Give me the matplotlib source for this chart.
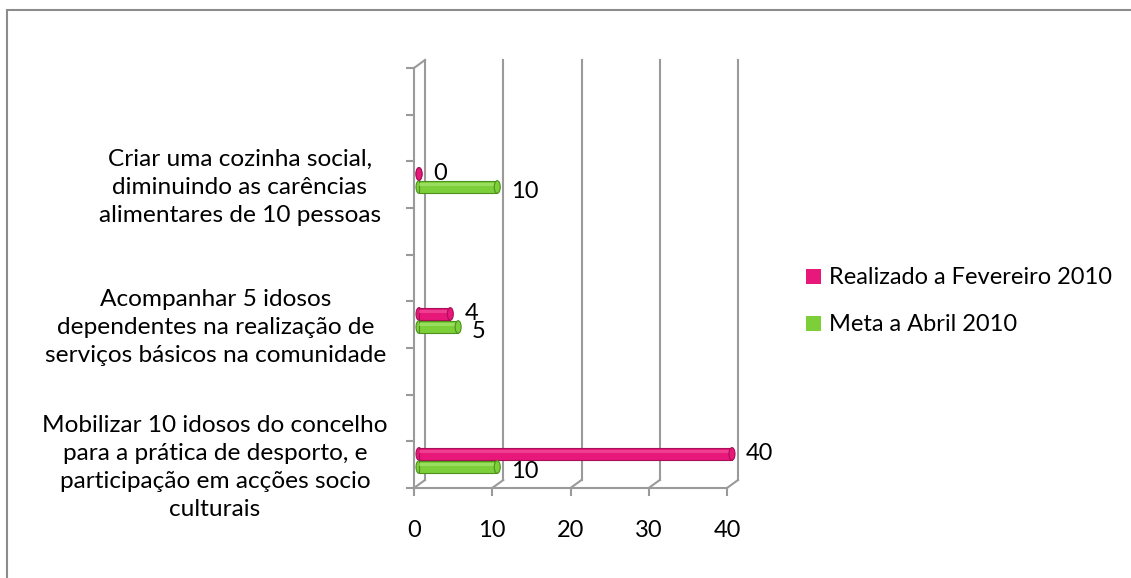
import matplotlib.pyplot as plt
import matplotlib.transforms as mtransforms
from matplotlib.patches import Ellipse, Patch, Rectangle

plt.rcParams["font.family"] = ["Lato", "DejaVu Sans"]

# data (bottom category first)
categories = [
    "Mobilizar 10 idosos do concelho\npara a prática de desporto, e\nparticipação em acções socio\nculturais",
    "Acompanhar 5 idosos\ndependentes na realização de\nserviços básicos na comunidade",
    "Criar uma cozinha social,\ndiminuindo as carências\nalimentares de 10 pessoas",
]
realizado = [40, 4, 0]
meta = [10, 5, 10]
series_names = ["Realizado a Fevereiro 2010", "Meta a Abril 2010"]
x_ticks = [0, 10, 20, 30, 40]

PINK, PINK_DARK, PINK_LIGHT = "#E8177A", "#A80F56", "#F45FA3"
GREEN, GREEN_DARK, GREEN_LIGHT = "#7DCF3A", "#4E8F1E", "#B2EC7E"
GRID = "#9A9A9A"
FS = 17
FS_CAT = 17.6

W, H = 1131, 578
fig = plt.figure(figsize=(W / 100, H / 100), dpi=100)
fig.patch.set_facecolor("white")

# front plane of the pseudo-3D plot
ax = fig.add_axes([414 / W, (H - 488) / H, 313 / W, 420 / H])
ax.set_xlim(0, 40)
ax.set_ylim(0, 9)
ax.set_facecolor("none")

# pixel -> data units
ux = 40 / 313
uy = 9 / 420
dx, dy = 11 * ux, 8 * uy  # depth offset of back wall

for s in ["top", "right"]:
    ax.spines[s].set_visible(False)
for s in ["left", "bottom"]:
    ax.spines[s].set_color(GRID)
    ax.spines[s].set_linewidth(1.5)

ax.set_xticks(x_ticks)
ax.set_yticks(range(10))
ax.set_yticklabels([])
ax.tick_params(axis="both", colors=GRID, width=1.5, length=6, labelcolor="black",
               labelsize=FS)
ax.tick_params(axis="x", pad=17)

# back wall gridlines + floor diagonals
for xv in x_ticks:
    ax.plot([xv + dx, xv + dx], [dy, 9 + dy], color=GRID, lw=1.5, clip_on=False, zorder=1)
    ax.plot([xv, xv + dx], [0, dy], color=GRID, lw=1.5, clip_on=False, zorder=1)
ax.plot([0, dx], [9, 9 + dy], color=GRID, lw=1.5, clip_on=False, zorder=1)

# bars as cylinders
pos = [0, 3, 6]
bh = 0.27
off = 5 * ux
cap_w = 6 * ux

def cylinder(y, v, face, dark, light):
    ax.barh(y, v, left=off, height=bh, color=face, edgecolor=dark, lw=0.8,
            zorder=3, clip_on=False)
    ax.barh(y + bh * 0.18, v, left=off, height=bh * 0.28, color=light, lw=0,
            alpha=0.55, zorder=4, clip_on=False)
    ax.add_patch(Ellipse((off + v, y), cap_w, bh, facecolor=face, edgecolor=dark,
                         lw=0.8, zorder=5, clip_on=False))
    ax.add_patch(Ellipse((off, y), cap_w, bh, facecolor=face, edgecolor=dark,
                         lw=0.8, zorder=2, clip_on=False))

for i, p in enumerate(pos):
    yp, yg = p + 0.73, p + 0.45
    cylinder(yp, realizado[i], PINK, PINK_DARK, PINK_LIGHT)
    cylinder(yg, meta[i], GREEN, GREEN_DARK, GREEN_LIGHT)
    ax.annotate(str(realizado[i]), (realizado[i], yp), xytext=(19, 0),
                textcoords="offset pixels", ha="left", va="center", fontsize=FS,
                zorder=6)
    ax.annotate(str(meta[i]), (meta[i], yg), xytext=(19, -4),
                textcoords="offset pixels", ha="left", va="center", fontsize=FS,
                zorder=6)

# category labels
label_x = [215 / W, 216 / W, 240 / W]
tr = mtransforms.blended_transform_factory(fig.transFigure, ax.transData)
for i, p in enumerate(pos):
    ax.text(label_x[i], p + 0.44, categories[i], transform=tr, ha="center",
            va="center", multialignment="center", fontsize=FS_CAT, linespacing=1.4)

# legend
handles = [Patch(facecolor=PINK, edgecolor="none"), Patch(facecolor=GREEN, edgecolor="none")]
fig.legend(handles, series_names, loc="upper left", bbox_to_anchor=(797 / W, 1 - 258 / H),
           frameon=False, fontsize=FS, handlelength=0.6, handleheight=0.6,
           handletextpad=0.35, labelspacing=1.1, borderaxespad=0)

# outer chart border (right/bottom edges fall outside the image)
fig.add_artist(Rectangle((7 / W, -0.1), 1.2, 1 - 10.5 / H + 0.1, transform=fig.transFigure,
                         fill=False, edgecolor="#8C8C8C", lw=1.5, clip_on=False))

fig.savefig("out.png", dpi=100)
